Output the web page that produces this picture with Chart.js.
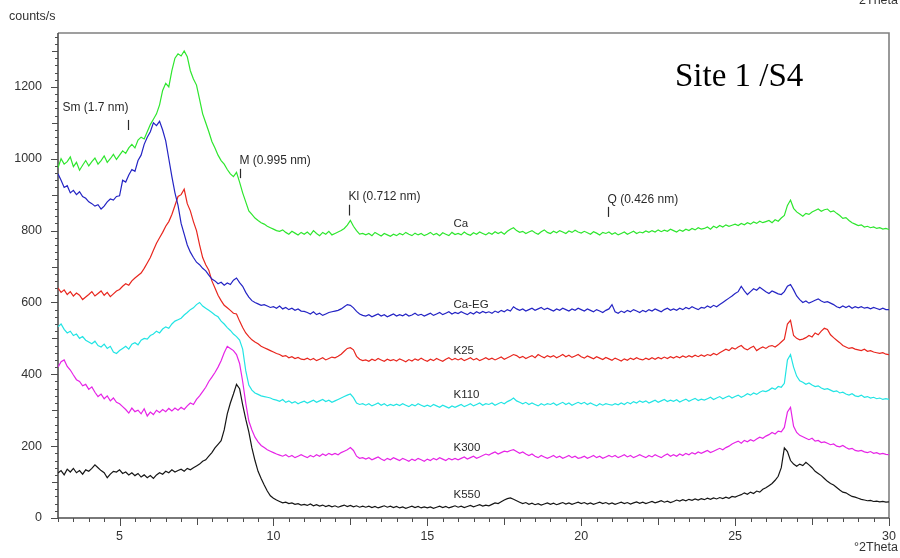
<!DOCTYPE html>
<html>
<head>
<meta charset="utf-8">
<script src="https://cdn.jsdelivr.net/npm/chart.js@4/dist/chart.umd.min.js"></script>
<style>
  html, body { margin: 0; padding: 0; background: #ffffff; }
  #wrap { width: 900px; height: 558px; position: relative; }
</style>
</head>
<body>
<div id="wrap"><canvas id="xrd" width="900" height="558"></canvas></div>
<script>
// Scan settings (°2Theta): one count value every step from the start angle
const scanStart = 3.0;
const scanStep = 0.1;

// Intensities in counts/s, one row per degree (3.0 ... 29.9), last value at 30.0
const ca = [
  975, 1000, 985, 992, 1005, 978, 990, 968, 982, 995,
  980, 992, 1002, 985, 995, 1008, 990, 1000, 1012, 998,
  1010, 1022, 1015, 1030, 1040, 1030, 1052, 1060, 1055, 1075,
  1095, 1110, 1125, 1150, 1190, 1210, 1200, 1245, 1280, 1292,
  1286, 1300, 1284, 1245, 1222, 1205, 1165, 1125, 1100, 1075,
  1048, 1030, 1010, 995, 985, 970, 958, 950, 962, 935,
  905, 880, 855, 845, 835, 828, 822, 818, 812, 808,
  804, 800, 798, 802, 795, 790, 798, 793, 788, 795,
  790, 796, 788, 800, 792, 786, 795, 790, 798, 788,
  792, 796, 800, 806, 815, 828, 812, 800, 790, 792,
  788, 792, 786, 795, 790, 785, 792, 788, 784, 790,
  786, 792, 788, 795, 790, 786, 793, 788, 792, 786,
  790, 795, 788, 792, 786, 794, 790, 786, 795, 789,
  792, 788, 796, 790, 787, 794, 790, 796, 792, 788,
  794, 790, 797, 792, 796, 790, 798, 804, 808, 800,
  795, 798, 792, 796, 800, 794, 790, 797, 802, 795,
  792, 798, 794, 800, 796, 792, 799, 795, 801, 796,
  793, 798, 794, 790, 797, 793, 788, 795, 792, 796,
  790, 794, 788, 792, 796, 790, 794, 798, 792, 796,
  794, 799, 795, 800, 796, 802, 797, 801, 798, 804,
  800, 796, 802, 798, 804, 800, 806, 802, 808, 804,
  806, 810, 804, 812, 808, 814, 810, 816, 812, 815,
  818, 814, 820, 816, 822, 818, 824, 820, 826, 822,
  825, 828, 822, 830, 826, 835, 842, 870, 885, 862,
  852, 846, 840, 848, 845, 852, 856, 860, 854, 858,
  860, 852, 855, 848, 842, 834, 836, 828, 822, 818,
  814, 816, 810, 812, 808, 810, 806, 808, 804, 806,
  803
];

const caEG = [
  958, 940, 920, 925, 905, 912, 900, 908, 895, 890,
  880, 875, 868, 872, 860, 868, 880, 888, 885, 895,
  897, 940, 935, 955, 970, 965, 995, 1010, 1040, 1060,
  1075, 1100, 1092, 1104, 1080, 1050, 1000, 950, 905, 870,
  820, 790, 760, 740, 725, 712, 705, 695, 688, 676,
  665, 660, 652, 656, 648, 654, 650, 662, 668, 655,
  645, 628, 615, 605, 600, 596, 592, 594, 590, 586,
  588, 584, 590, 582, 586, 580, 584, 578, 582, 576,
  575, 572, 568, 574, 566, 570, 564, 568, 572, 574,
  576, 578, 582, 588, 594, 592, 585, 575, 568, 564,
  562, 566, 560, 564, 568, 562, 566, 560, 564, 568,
  562, 566, 563, 568, 562, 565, 570, 564, 567, 562,
  566, 570, 564, 568, 572, 566, 570, 574, 568, 572,
  569, 574, 570, 566, 572, 568, 574, 570, 575, 571,
  574, 570, 576, 572, 578, 574, 580, 576, 588, 582,
  578, 582, 576, 580, 584, 578, 582, 586, 580, 584,
  580, 576, 582, 578, 584, 580, 576, 582, 578, 584,
  580, 576, 582, 578, 574, 580, 576, 572, 578, 582,
  594, 574, 570, 576, 572, 578, 574, 580, 576, 572,
  578, 574, 580, 576, 582, 578, 574, 580, 584, 578,
  582, 578, 584, 580, 586, 582, 588, 584, 580, 586,
  584, 590, 586, 592, 588, 594, 600, 606, 612, 618,
  625, 630, 645, 632, 622, 630, 638, 634, 642, 636,
  630, 625, 632, 628, 624, 622, 630, 645, 650, 635,
  618, 608, 600, 604, 598, 602, 606, 610, 604, 600,
  602, 598, 594, 588, 585, 590, 586, 590, 584, 588,
  585, 588, 584, 586, 582, 586, 583, 580, 584, 580,
  580
];

const k25 = [
  640, 628, 635, 622, 630, 618, 626, 620, 608, 615,
  622, 630, 618, 625, 632, 620, 628, 616, 624, 632,
  636, 645, 652, 648, 660, 668, 675, 682, 695, 710,
  725, 745, 765, 780, 795, 812, 825, 845, 870, 895,
  900, 915, 875, 855, 825, 800, 760, 725, 705, 690,
  660, 640, 620, 605, 592, 585, 578, 570, 568, 548,
  530, 515, 505, 496, 490, 485, 478, 474, 470, 466,
  462, 458, 455, 450, 452, 446, 449, 444, 447, 442,
  441, 445, 440, 444, 438, 442, 446, 440, 444, 448,
  446, 450, 456, 464, 472, 474, 468, 450, 442, 438,
  440, 436, 442, 438, 444, 440, 436, 442, 438, 441,
  437, 443, 439, 435, 441, 437, 443, 439, 445, 440,
  436, 442, 438, 444, 440, 436, 442, 446, 440, 444,
  440, 444, 438, 442, 446, 440, 444, 438, 442, 446,
  441, 445, 440, 444, 448, 442, 446, 450, 455, 452,
  446, 450, 444, 448, 452, 446, 455, 450, 446, 452,
  448, 452, 446, 450, 455, 449, 453, 447, 451, 455,
  449, 445, 451, 447, 443, 449, 445, 441, 447, 443,
  439, 445, 441, 437, 443, 439, 445, 441, 446, 442,
  440, 445, 441, 446, 442, 447, 443, 448, 444, 449,
  445, 450, 446, 451, 447, 452, 448, 453, 449, 454,
  450, 455, 452, 458, 454, 460, 465, 470, 466, 474,
  470, 476, 480, 472, 468, 474, 478, 466, 472, 476,
  472, 478, 480, 476, 482, 490, 498, 540, 550, 508,
  500, 496, 498, 502, 508, 504, 515, 510, 520, 528,
  525, 510, 502, 495, 488, 480, 476, 472, 474, 470,
  468, 466, 470, 464, 466, 462, 460, 458, 460, 456,
  455
];

const k110 = [
  532, 540, 525, 515, 520, 508, 512, 500, 505, 495,
  490, 485, 492, 480, 476, 484, 472, 478, 462, 458,
  466, 472, 478, 470, 484, 488, 482, 495, 500, 498,
  508, 512, 520, 515, 526, 532, 528, 540, 548, 552,
  556, 565, 572, 580, 585, 594, 600, 590, 584, 578,
  572, 565, 560, 548, 540, 530, 522, 512, 505, 495,
  470, 410, 370, 356, 348, 344, 340, 338, 336, 334,
  330, 328, 325, 330, 322, 326, 320, 324, 318, 322,
  325, 320, 324, 328, 322, 326, 330, 324, 328, 322,
  326, 330, 334, 338, 342, 345, 335, 320, 316, 318,
  314, 318, 312, 316, 320, 314, 318, 312, 316, 313,
  317, 313, 318, 314, 310, 316, 312, 318, 314, 310,
  314, 310, 316, 312, 308, 314, 310, 306, 312, 308,
  312, 316, 310, 314, 318, 312, 316, 320, 314, 318,
  316, 320, 314, 318, 322, 318, 324, 328, 334, 326,
  322, 318, 322, 316, 320, 316, 312, 318, 314, 318,
  316, 320, 314, 318, 322, 316, 320, 314, 318, 322,
  318, 322, 316, 320, 316, 312, 318, 314, 318, 316,
  314, 318, 315, 320, 316, 322, 318, 324, 320, 326,
  322, 326, 320, 324, 328, 322, 326, 330, 324, 328,
  325, 329, 323, 327, 331, 325, 329, 333, 327, 331,
  328, 332, 336, 330, 334, 338, 332, 336, 340, 334,
  338, 342, 336, 340, 346, 342, 348, 344, 350, 354,
  352, 356, 362, 358, 366, 364, 375, 440, 455, 420,
  395, 382, 378, 372, 376, 370, 366, 368, 362, 358,
  360, 356, 352, 354, 348, 350, 345, 342, 346, 340,
  338, 342, 336, 338, 334, 336, 332, 334, 330, 332,
  330
];

const k300 = [
  420, 435, 440, 422, 412, 398, 385, 380, 368, 372,
  358, 365, 350, 338, 345, 332, 340, 326, 334, 322,
  318, 310, 302, 292, 306, 296, 300, 290, 304, 284,
  295, 288, 300, 294, 302, 296, 305, 298, 306, 300,
  308, 302, 312, 320, 316, 330, 340, 352, 364, 380,
  392, 405, 420, 438, 460, 478, 472, 466, 455, 430,
  380, 320, 270, 245, 225, 212, 202, 196, 190, 186,
  182, 178, 175, 172, 176, 170, 174, 168, 172, 176,
  172, 168, 174, 170, 176, 172, 178, 174, 180, 176,
  180, 176, 182, 186, 190, 196, 188, 172, 166, 168,
  164, 168, 162, 166, 170, 164, 160, 166, 162, 168,
  164, 160, 166, 162, 158, 164, 160, 166, 162, 158,
  164, 160, 166, 162, 168, 164, 160, 166, 162, 166,
  162, 166, 170, 164, 168, 172, 166, 170, 174, 178,
  175, 180, 184, 178, 182, 186, 184, 188, 190, 185,
  180, 184, 178, 174, 178, 172, 168, 174, 170, 166,
  170, 174, 168, 172, 166, 170, 174, 168, 172, 166,
  168, 172, 166, 170, 174, 168, 172, 166, 170, 174,
  170, 174, 168, 172, 176, 170, 174, 168, 172, 176,
  172, 168, 174, 170, 176, 172, 168, 174, 178, 172,
  176, 172, 178, 174, 180, 176, 182, 178, 184, 180,
  184, 188, 182, 186, 190, 194, 190, 196, 200, 206,
  210, 214, 208, 216, 212, 218, 214, 220, 225, 222,
  228, 232, 238, 234, 242, 240, 252, 295, 308, 255,
  238, 230, 226, 222, 218, 222, 214, 216, 210, 212,
  208, 204, 206, 200, 198, 202, 196, 192, 194, 188,
  186, 188, 184, 182, 185, 180, 182, 178, 180, 177,
  176
];

const k550 = [
  125, 132, 120, 136, 128, 138, 126, 132, 122, 134,
  130, 138, 148, 140, 132, 126, 112, 122, 130, 128,
  134, 124, 128, 120, 126, 118, 124, 114, 120, 112,
  118, 110, 120, 126, 122, 130, 126, 134, 128, 132,
  136, 130, 138, 134, 140, 145, 150, 158, 162, 172,
  182, 195, 205, 215, 245, 290, 320, 345, 372, 360,
  315, 275, 240, 195, 160, 130, 110, 92, 75, 62,
  55, 50, 46, 42, 44, 40, 42, 38, 40, 36,
  38, 35, 39, 34, 37, 33, 36, 32, 35, 31,
  34, 30, 33, 36, 32, 35, 31, 34, 30, 33,
  30, 33, 29, 32, 28, 31, 34, 30, 33, 29,
  32, 28, 31, 27, 30, 33, 29, 32, 28, 31,
  28, 31, 27, 30, 33, 29, 32, 28, 31, 34,
  30, 33, 29, 32, 35, 31, 34, 37, 33, 36,
  34, 38, 42, 40, 45, 50, 54, 56, 52, 48,
  44, 40, 43, 38, 41, 37, 40, 36, 39, 42,
  38, 41, 37, 40, 43, 39, 42, 38, 41, 44,
  40, 43, 39, 42, 38, 41, 44, 40, 43, 39,
  42, 38, 41, 44, 40, 43, 39, 42, 45, 41,
  44, 40, 43, 46, 42, 45, 48, 44, 47, 43,
  46, 50, 47, 51, 48, 52, 49, 53, 50, 54,
  51, 55, 52, 56, 53, 57, 54, 58, 55, 60,
  58, 62, 65, 70, 66, 72, 68, 75, 72, 80,
  84, 90, 96, 105, 116, 140, 195, 185, 160, 150,
  144, 150, 146, 155, 148, 140, 130, 124, 118, 110,
  102, 96, 92, 85, 78, 72, 70, 65, 60, 58,
  55, 52, 50, 48, 49, 46, 47, 45, 46, 44,
  45
];

// Sample names, written next to each pattern
const seriesNames = ['Ca', 'Ca-EG', 'K25', 'K110', 'K300', 'K550'];
const seriesValues = [ca, caEG, k25, k110, k300, k550];
const seriesColors = ['#2ee62e', '#2424c4', '#e8261e', '#22e4e4', '#e624e6', '#161616'];

// Where each sample name sits (°2Theta, counts/s)
const nameAngle = 15.85;
const nameCounts = [820, 594, 466, 343, 195, 64];

// Reflection markers: label, position (°2Theta), marker span and label height (counts/s)
const peakNames = ['Sm (1.7 nm)', 'M (0.995 nm)', 'Kl (0.712 nm)', 'Q (0.426 nm)'];
const peakAngles = [5.29, 8.9, 12.47, 20.88];
const peakTop = [1108, 972, 872, 866];
const peakBottom = [1080, 946, 842, 838];
const peakLabelCounts = [1143, 995, 895, 887];
const peakLabelAlign = ['right', 'left', 'left', 'left'];

// Axis ranges and labelled ticks
const xRange = [3, 30];
const yRange = [0, 1350];
const xTickLabels = [5, 10, 15, 20, 25, 30];
const yTickLabels = [0, 200, 400, 600, 800, 1000, 1200];

const axisFont = { family: 'Liberation Sans, Arial, sans-serif', size: 12.5 };

const datasets = seriesValues.map((vals, s) => ({
  label: seriesNames[s],
  data: vals.map((c, i) => ({ x: +(scanStart + i * scanStep).toFixed(2), y: c })),
  borderColor: seriesColors[s],
  borderWidth: 1.2,
  pointRadius: 0,
  tension: 0,
  fill: false
}));

// Frame, axis lines and the three tick lengths of each axis
const frameAndTicks = {
  id: 'frameAndTicks',
  beforeDatasetsDraw(chart) {
    const { ctx, chartArea: a, scales: { x, y } } = chart;
    ctx.save();
    ctx.strokeStyle = '#808080';
    ctx.lineWidth = 1.6;
    ctx.beginPath();
    ctx.moveTo(a.left, a.top);
    ctx.lineTo(a.right, a.top);
    ctx.lineTo(a.right, a.bottom);
    ctx.stroke();

    ctx.strokeStyle = '#4d4d4d';
    ctx.lineWidth = 1.6;
    ctx.beginPath();
    ctx.moveTo(a.left, a.top);
    ctx.lineTo(a.left, a.bottom);
    ctx.lineTo(a.right, a.bottom);
    ctx.stroke();

    ctx.lineWidth = 1;
    ctx.beginPath();
    for (let k = 0; xRange[0] + k * 0.5 <= xRange[1] + 1e-9; k++) {
      const v = xRange[0] + k * 0.5;
      const px = Math.round(x.getPixelForValue(v)) + 0.5;
      let len = 4;
      if (Math.abs(v % 5) < 1e-9) len = 8;
      else if (Math.abs(v % 2.5) < 1e-9) len = 7;
      ctx.moveTo(px, a.bottom);
      ctx.lineTo(px, a.bottom + len);
    }
    for (let v = yRange[0]; v <= 1340; v += 20) {
      const py = Math.round(y.getPixelForValue(v)) + 0.5;
      let len = 3;
      if (v % 200 === 0) len = 7;
      else if (v % 100 === 0) len = 6;
      ctx.moveTo(a.left, py);
      ctx.lineTo(a.left - len, py);
    }
    ctx.stroke();
    ctx.restore();
  },
  afterDatasetsDraw(chart) {
    const { ctx, scales: { x, y } } = chart;
    ctx.save();
    ctx.fillStyle = '#2a2a2a';
    ctx.strokeStyle = '#2a2a2a';
    ctx.textBaseline = 'middle';

    // reflection markers
    ctx.font = '12px "Liberation Sans", Arial, sans-serif';
    ctx.lineWidth = 1.2;
    peakNames.forEach((name, i) => {
      const px = Math.round(x.getPixelForValue(peakAngles[i])) + 0.5;
      ctx.beginPath();
      ctx.moveTo(px, y.getPixelForValue(peakTop[i]));
      ctx.lineTo(px, y.getPixelForValue(peakBottom[i]));
      ctx.stroke();
      ctx.textAlign = peakLabelAlign[i];
      const tx = peakLabelAlign[i] === 'right' ? px : px - 1;
      ctx.fillText(name, tx, y.getPixelForValue(peakLabelCounts[i]));
    });

    // sample names
    ctx.font = '11.5px "Liberation Sans", Arial, sans-serif';
    ctx.textAlign = 'left';
    seriesNames.forEach((name, i) => {
      ctx.fillText(name, x.getPixelForValue(nameAngle), y.getPixelForValue(nameCounts[i]));
    });

    // axis units
    ctx.font = '12.5px "Liberation Sans", Arial, sans-serif';
    ctx.fillStyle = '#333333';
    ctx.textAlign = 'left';
    ctx.fillText('counts/s', 9, 17);
    ctx.textAlign = 'right';
    ctx.fillText('°2Theta', 898, 548);
    ctx.fillText('°2Theta', 898, 1);

    // sample title
    ctx.fillStyle = '#000000';
    ctx.textAlign = 'left';
    ctx.textBaseline = 'alphabetic';
    ctx.font = '33px "Liberation Serif", "Times New Roman", serif';
    ctx.fillText('Site 1 /S4', 675, 86);
    ctx.restore();
  }
};

new Chart(document.getElementById('xrd'), {
  type: 'line',
  data: { datasets },
  options: {
    responsive: false,
    devicePixelRatio: 1,
    animation: false,
    events: [],
    layout: { padding: { top: 33, right: 11, left: 0, bottom: 0 } },
    plugins: { legend: { display: false }, tooltip: { enabled: false } },
    scales: {
      x: {
        type: 'linear',
        min: xRange[0],
        max: xRange[1],
        grid: { display: false },
        border: { display: false },
        afterBuildTicks: s => { s.ticks = xTickLabels.map(v => ({ value: v })); },
        afterFit: s => { s.height = 40; s.paddingLeft = 0; s.paddingRight = 0; },
        ticks: { color: '#333333', font: axisFont, padding: 3, maxRotation: 0, autoSkip: false,
                 callback: v => String(v) }
      },
      y: {
        type: 'linear',
        min: yRange[0],
        max: yRange[1],
        grid: { display: false },
        border: { display: false },
        afterBuildTicks: s => { s.ticks = yTickLabels.map(v => ({ value: v })); },
        afterFit: s => { s.width = 58; s.paddingTop = 0; s.paddingBottom = 0; },
        ticks: { color: '#333333', font: axisFont, padding: 8, autoSkip: false,
                 callback: v => String(v) }
      }
    }
  },
  plugins: [frameAndTicks]
});
</script>
</body>
</html>
